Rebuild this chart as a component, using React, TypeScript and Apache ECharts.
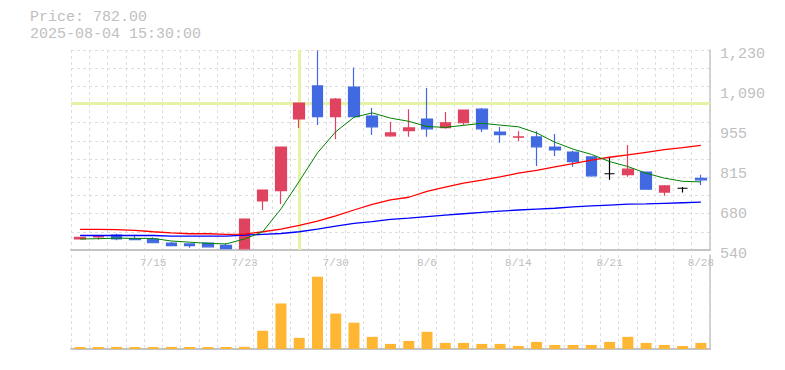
import React, { useEffect, useRef } from "react";
import * as echarts from "echarts";

const categories = [
  "7/9", "7/10", "7/11", "7/14", "7/15", "7/16", "7/17", "7/18", "7/22", "7/23",
  "7/24", "7/25", "7/28", "7/29", "7/30", "7/31", "8/1", "8/4", "8/5", "8/6",
  "8/7", "8/8", "8/12", "8/13", "8/14", "8/15", "8/18", "8/19", "8/20", "8/21",
  "8/22", "8/25", "8/26", "8/27", "8/28",
];
const opens = [578, 585, 591, 579, 578, 564, 561, 564, 556, 544, 709, 745, 992, 1106, 1000, 1102, 1002, 934, 952, 992, 962, 979, 1026, 947, 929, 930, 895, 878, 861, 803, 800, 809, 740, 753, 787];
const closes = [584, 588, 578, 576, 565, 555, 555, 551, 545, 647, 747, 895, 1047, 1000, 1061, 1000, 965, 944, 961, 958, 979, 1023, 958, 938, 930, 896, 885, 845, 796, 803, 819, 750, 761, 753, 782];
const lows = [577, 576, 574, 575, 564, 554, 548, 550, 543, 543, 678, 699, 961, 971, 922, 998, 937, 931, 931, 931, 958, 971, 947, 910, 915, 830, 864, 827, 793, 782, 793, 748, 727, 738, 764];
const highs = [585, 588, 596, 593, 583, 568, 562, 565, 562, 648, 747, 895, 1047, 1228, 1064, 1170, 1030, 982, 1026, 1099, 1016, 1023, 1030, 964, 950, 950, 940, 882, 862, 860, 902, 811, 764, 757, 800];
const ma5 = [578, 579, 581, 580, 580, 571, 567, 563, 561, 578, 603, 682, 777, 875, 948, 998, 1013, 995, 984, 966, 963, 970, 977, 971, 965, 944, 912, 888, 870, 845, 828, 805, 788, 777, 775];
const ma25 = [611, 611, 610, 608, 603, 599, 596, 596, 594, 595, 603, 612, 625, 640, 658, 678, 697, 713, 722, 742, 757, 771, 781, 792, 805, 815, 827, 838, 850, 860, 868, 877, 886, 893, 901];
const ma75 = [590, 590, 590, 590, 590, 588, 588, 588, 588, 591, 594, 597, 603, 612, 622, 632, 638, 646, 650, 655, 660, 665, 670, 674, 678, 681, 684, 689, 692, 695, 698, 699, 701, 703, 705];
const volumes = [28, 27, 29, 28, 27, 29, 28, 27, 28, 30, 252, 630, 154, 1000, 490, 364, 168, 70, 112, 238, 84, 84, 70, 70, 42, 98, 56, 56, 56, 98, 168, 84, 56, 42, 84];
const yTickLabels = ["540", "680", "815", "955", "1,090", "1,230"];
const priceMin = 540;
const priceMax = 1230;
const gridRows = 11;
const volumeMax = 1300;
const crossDate = "7/28";
const crossPrice = 1047;
const headerLines = ["Price: 782.00", "2025-08-04 15:30:00"];
const labelEvery = 5;
const labelOffset = 4;

const FONT = '"Liberation Mono", monospace';
const TXT = "#c0c0c0";
const AXIS = "#c4c4c4";
const GRID = "#dedede";
const UP = "#e0435f";
const DOWN = "#4169e1";

export default function App() {
  const ref = useRef<HTMLDivElement>(null);
  useEffect(() => {
    if (!ref.current) return;
    const chart = echarts.init(ref.current, undefined, { renderer: "svg" });
    const candle = categories.map((_, i) => [opens[i], closes[i], lows[i], highs[i]]);
    const dashed = { show: true, lineStyle: { color: GRID, type: [3, 3] as any, width: 1 } };
    const option: any = {
      animation: false,
      backgroundColor: "#fff",
      graphic: headerLines.map((t, i) => ({
        type: "text",
        left: 30,
        top: 8.5 + i * 17,
        style: { text: t, font: `15px ${FONT}`, fill: TXT, lineHeight: 17 },
      })),
      grid: [
        { left: 71, right: 75, top: 50, height: 200 },
        { left: 71, right: 75, top: 255, height: 94 },
      ],
      xAxis: [
        {
          type: "category",
          gridIndex: 0,
          data: categories,
          boundaryGap: true,
          axisLine: { show: true, lineStyle: { color: AXIS, width: 2 } },
          axisTick: { show: false, interval: 0 },
          axisLabel: {
            interval: (idx: number) => idx % labelEvery === labelOffset,
            color: TXT,
            fontFamily: FONT,
            fontSize: 11,
            margin: 7,
          },
          splitLine: { ...dashed, interval: 0 },
        },
        {
          type: "category",
          gridIndex: 1,
          data: categories,
          boundaryGap: true,
          axisLine: { show: true, lineStyle: { color: AXIS, width: 2 } },
          axisTick: { show: false, interval: 0 },
          axisLabel: { show: false },
          splitLine: { ...dashed, interval: 0 },
        },
      ],
      yAxis: [
        { type: "value", gridIndex: 0, min: priceMin, max: priceMax, show: false },
        {
          type: "value",
          gridIndex: 0,
          position: "right",
          min: 0,
          max: yTickLabels.length - 1,
          interval: 1,
          axisLine: { show: true, lineStyle: { color: AXIS, width: 1.5 } },
          axisTick: { show: false },
          splitLine: { show: false },
          axisLabel: {
            formatter: (v: number) => yTickLabels[Math.round(v)],
            color: TXT,
            fontFamily: FONT,
            fontSize: 15,
            margin: 10,
            verticalAlign: "top",
            lineHeight: 8,
          },
        },
        {
          type: "value",
          gridIndex: 0,
          position: "left",
          min: 0,
          max: gridRows,
          interval: 1,
          axisLine: { show: false },
          axisTick: { show: false },
          axisLabel: { show: false },
          splitLine: dashed,
        },
        {
          type: "value",
          gridIndex: 1,
          position: "right",
          min: 0,
          max: volumeMax,
          axisLine: { show: true, lineStyle: { color: AXIS, width: 1.5 } },
          axisTick: { show: false },
          axisLabel: { show: false },
          splitLine: { show: false },
        },
      ],
      series: [
        {
          type: "candlestick",
          xAxisIndex: 0,
          yAxisIndex: 0,
          data: candle,
          barWidth: 11,
          z: 10,
          itemStyle: {
            color: UP,
            color0: DOWN,
            borderColor: UP,
            borderColor0: DOWN,
            borderColorDoji: "#000",
            borderWidth: 1.2,
          },
          markLine: {
            z: 1,
            silent: true,
            symbol: ["none", "none"],
            label: { show: false },
            lineStyle: { color: "#e4f3a6", width: 3, type: "solid" },
            emphasis: { disabled: true },
            data: [{ xAxis: crossDate }, { yAxis: crossPrice }],
          },
        },
        {
          type: "line", xAxisIndex: 0, yAxisIndex: 0, data: ma75, showSymbol: false, z: 11,
          lineStyle: { color: "#0000ff", width: 1.3 },
        },
        {
          type: "line", xAxisIndex: 0, yAxisIndex: 0, data: ma25, showSymbol: false, z: 11,
          lineStyle: { color: "#ff0000", width: 1.3 },
        },
        {
          type: "line", xAxisIndex: 0, yAxisIndex: 0, data: ma5, showSymbol: false, z: 11,
          lineStyle: { color: "#008000", width: 1 },
        },
        {
          type: "bar", xAxisIndex: 1, yAxisIndex: 3, data: volumes, barWidth: 11,
          itemStyle: { color: "#ffb733" },
        },
      ],
    };
    chart.setOption(option);
    return () => chart.dispose();
  }, []);
  return (
    <div
      ref={ref}
      style={{ position: "absolute", left: 0, top: 0, width: 785, height: 370, background: "#fff" }}
    />
  );
}
